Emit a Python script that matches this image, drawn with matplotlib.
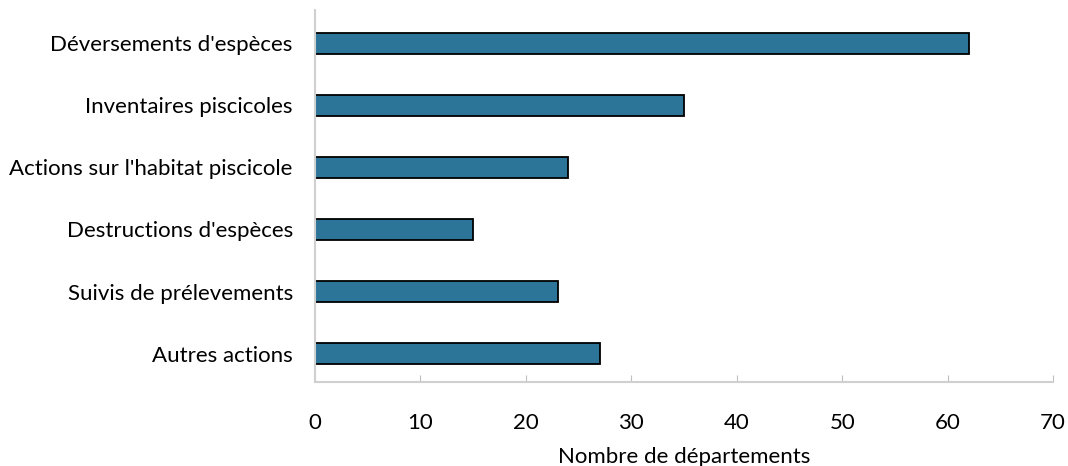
import matplotlib
matplotlib.use("Agg")
import matplotlib.pyplot as plt

categories = ["Déversements d'espèces", "Inventaires piscicoles",
              "Actions sur l'habitat piscicole", "Destructions d'espèces",
              "Suivis de prélevements", "Autres actions"]
values = [62, 35, 24, 15, 23, 27]

plt.rcParams['font.family'] = ['Lato', 'DejaVu Sans']

fig = plt.figure(figsize=(10.68, 4.66), dpi=100)
ax = fig.add_axes([0.295, 0.180, 0.691, 0.799])

ypos = list(range(len(categories)))[::-1]
ax.barh(ypos, values, height=0.34, color="#2C7599", edgecolor="black", linewidth=1.3)

ax.set_xlim(0, 70)
ax.set_ylim(-0.46, 5.54)
ax.set_xticks(range(0, 71, 10))
ax.set_yticks(ypos)
ax.set_yticklabels(categories, fontsize=16)
ax.tick_params(axis="x", direction="in", length=5, color="#BFBFBF", labelsize=16, pad=22)
ax.tick_params(axis="y", length=0, pad=16)

for s in ["top", "right"]:
    ax.spines[s].set_visible(False)
for s in ["left", "bottom"]:
    ax.spines[s].set_color("#D0D0D0")
    ax.spines[s].set_linewidth(1.5)

ax.set_xlabel("Nombre de départements", fontsize=16, labelpad=10)

fig.savefig("out.png", dpi=100)
plt.close()
